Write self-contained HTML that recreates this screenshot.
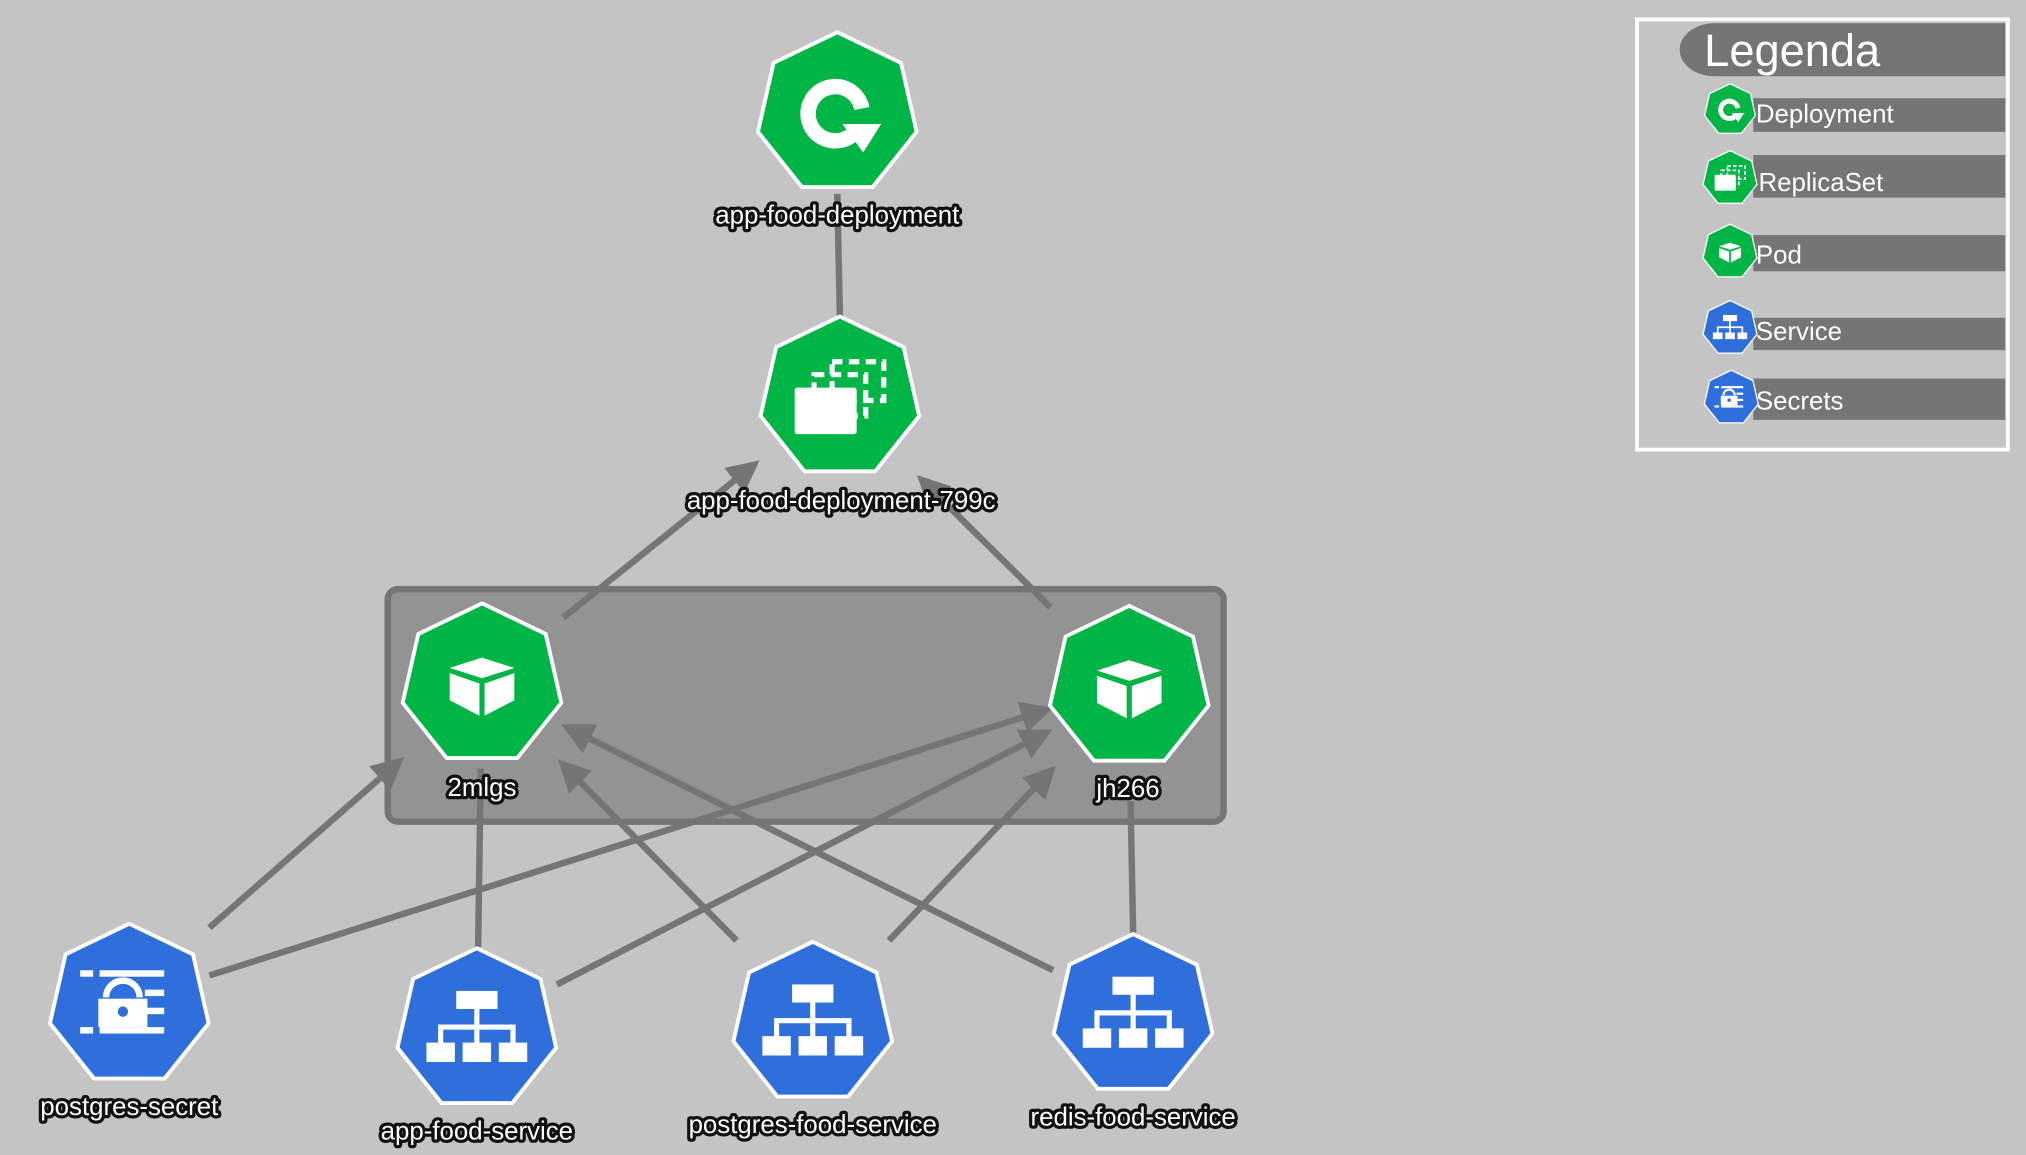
<!DOCTYPE html>
<html><head><meta charset="utf-8"><style>
html,body{margin:0;padding:0;background:#c4c4c4;}
svg{display:block;}
.lbl{font-family:"Liberation Sans",sans-serif;font-size:20px;fill:#fff;stroke:#111;stroke-width:5px;paint-order:stroke;stroke-linejoin:round;text-anchor:middle;}
.lg{font-family:"Liberation Sans",sans-serif;font-size:20px;fill:#fff;}
</style></head><body>
<svg width="2026" height="1155" viewBox="0 0 1568 894" xmlns="http://www.w3.org/2000/svg">
<defs>
<marker id="ar" markerWidth="5" markerHeight="5" refX="3.5" refY="2.5" orient="auto" markerUnits="strokeWidth">
<path d="M0,0 L5,2.5 L0,5 z" fill="#757575"/></marker>
<polygon id="hep" points="0,-63 49.3,-39.3 61.4,14 27.3,56.8 -27.3,56.8 -61.4,14 -49.3,-39.3" stroke="#fff" stroke-width="3"/>
<g id="cube" fill="#fff">
<polygon points="-25,-13 0,-21 25,-13 0,-5"/>
<polygon points="-25,-9 -2,-1 -2,24 -25,12"/>
<polygon points="2,-1 25,-9 25,12 2,24"/>
</g>
<g id="dep">
<path d="M12,16 A21,21 0 1 1 19,-4" fill="none" stroke="#fff" stroke-width="12"/>
<polygon points="4,8 34,8 20,30" fill="#fff"/>
</g>
<g id="rs">
<rect x="-6" y="-28" width="40" height="30" fill="none" stroke="#fff" stroke-width="4" stroke-dasharray="8,5"/>
<rect x="-20" y="-18" width="40" height="32" fill="none" stroke="#fff" stroke-width="4" stroke-dasharray="8,5"/>
<rect x="-35" y="-8" width="48" height="36" rx="2" fill="#fff"/>
</g>
<g id="svc" fill="#fff">
<rect x="-16" y="-30" width="32" height="14"/>
<rect x="-2" y="-16" width="4" height="14"/>
<rect x="-30" y="-4" width="60" height="4"/>
<rect x="-30" y="0" width="4" height="12"/><rect x="-2" y="0" width="4" height="12"/><rect x="26" y="0" width="4" height="12"/>
<rect x="-39" y="10" width="22" height="15"/><rect x="-11" y="10" width="22" height="15"/><rect x="17" y="10" width="22" height="15"/>
</g>
<g id="sec" fill="#fff">
<rect x="-38" y="-27" width="10" height="5"/><rect x="-23" y="-27" width="50" height="5"/>
<rect x="12" y="-12" width="15" height="5"/><rect x="12" y="2" width="15" height="5"/>
<rect x="-38" y="17" width="10" height="5"/><rect x="-23" y="17" width="50" height="5"/>
<path d="M-18,-6 A13,13 0 0 1 8,-6" fill="none" stroke="#fff" stroke-width="5"/>
<rect x="-24" y="-5" width="38" height="22"/>
<circle cx="-5" cy="5" r="4" fill="#2e6fdb"/>
</g>
</defs>

<rect x="300" y="456" width="647" height="180" rx="8" fill="#939393" stroke="#757575" stroke-width="5"/>

<g stroke="#757575" stroke-width="5" fill="none">
<line x1="650" y1="245" x2="648" y2="150"/>
<line x1="436" y1="478" x2="582" y2="361" marker-end="url(#ar)"/>
<line x1="813" y1="470" x2="715" y2="373" marker-end="url(#ar)"/>
<line x1="162" y1="718" x2="307" y2="591" marker-end="url(#ar)"/>
<line x1="162" y1="755" x2="808" y2="550" marker-end="url(#ar)"/>
<line x1="370" y1="733" x2="372" y2="595"/>
<line x1="431" y1="762" x2="808" y2="568" marker-end="url(#ar)"/>
<line x1="570" y1="728" x2="437" y2="593" marker-end="url(#ar)"/>
<line x1="688" y1="728" x2="812" y2="598" marker-end="url(#ar)"/>
<line x1="815" y1="751" x2="441" y2="564" marker-end="url(#ar)"/>
<line x1="877" y1="722" x2="875" y2="620"/>
</g>

<g transform="translate(648,88)"><use href="#hep" fill="#00b545"/><use href="#dep"/></g>
<g transform="translate(650,308)"><use href="#hep" fill="#00b545"/><use href="#rs"/></g>
<g transform="translate(373,530)"><use href="#hep" fill="#00b545"/><use href="#cube"/></g>
<g transform="translate(874,532)"><use href="#hep" fill="#00b545"/><use href="#cube"/></g>
<g transform="translate(100,778)"><use href="#hep" fill="#2e6fdb"/><use href="#sec"/></g>
<g transform="translate(369,797)"><use href="#hep" fill="#2e6fdb"/><use href="#svc"/></g>
<g transform="translate(629,792)"><use href="#hep" fill="#2e6fdb"/><use href="#svc"/></g>
<g transform="translate(877,786)"><use href="#hep" fill="#2e6fdb"/><use href="#svc"/></g>

<text class="lbl" x="648" y="173">app-food-deployment</text>
<text class="lbl" x="651" y="394">app-food-deployment-799c</text>
<text class="lbl" x="373" y="616">2mlgs</text>
<text class="lbl" x="873" y="617">jh266</text>
<text class="lbl" x="100" y="863">postgres-secret</text>
<text class="lbl" x="369" y="882">app-food-service</text>
<text class="lbl" x="629" y="877">postgres-food-service</text>
<text class="lbl" x="877" y="871">redis-food-service</text>

<rect x="1267" y="15" width="287" height="333" fill="none" stroke="#fff" stroke-width="3"/>
<path d="M1327,18 H1552 V59 H1327 A27,20.5 0 0 1 1327,18 z" fill="#757575"/>
<text x="1319" y="51" font-family="Liberation Sans, sans-serif" font-size="35" fill="#fff">Legenda</text>
<g fill="#757575">
<rect x="1357" y="76" width="195" height="26"/>
<rect x="1357" y="120" width="195" height="33"/>
<rect x="1357" y="182" width="195" height="28"/>
<rect x="1357" y="246" width="195" height="25"/>
<rect x="1357" y="293" width="195" height="32"/>
</g>
<g transform="translate(1339,85) scale(0.32)"><use href="#hep" fill="#00b545"/><use href="#dep"/></g>
<g transform="translate(1339,138) scale(0.34)"><use href="#hep" fill="#00b545"/><use href="#rs"/></g>
<g transform="translate(1339,195) scale(0.34)"><use href="#hep" fill="#00b545"/><use href="#cube"/></g>
<g transform="translate(1339,254) scale(0.34)"><use href="#hep" fill="#2e6fdb"/><use href="#svc"/></g>
<g transform="translate(1340,308) scale(0.34)"><use href="#hep" fill="#2e6fdb"/><use href="#sec"/></g>
<text class="lg" x="1359" y="95">Deployment</text>
<text class="lg" x="1361" y="148">ReplicaSet</text>
<text class="lg" x="1359" y="204">Pod</text>
<text class="lg" x="1359" y="263">Service</text>
<text class="lg" x="1359" y="317">Secrets</text>
</svg>
</body></html>
